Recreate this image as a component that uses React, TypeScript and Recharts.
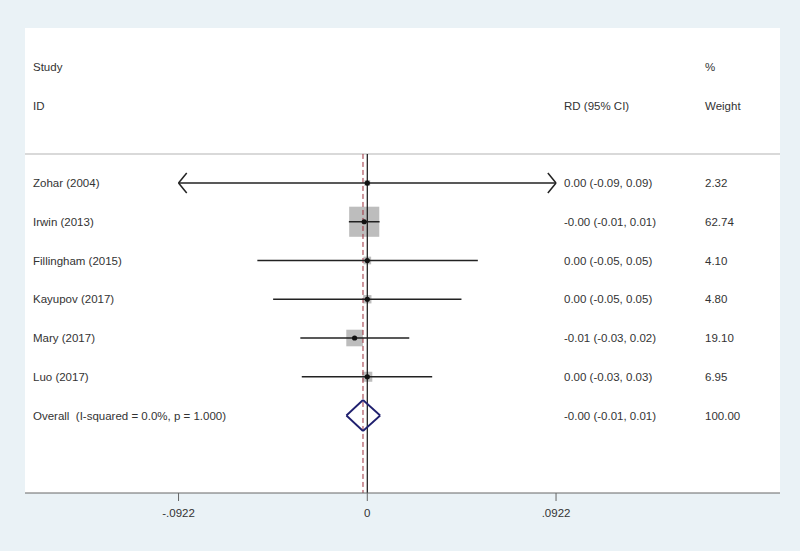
import React from "react";
import { ComposedChart, XAxis, YAxis, Scatter, ReferenceLine, CartesianGrid, ErrorBar } from "recharts";

// study rows, top to bottom
const studies = ["Zohar (2004)", "Irwin (2013)", "Fillingham (2015)", "Kayupov (2017)", "Mary (2017)", "Luo (2017)"];
const estimates = [0.0, -0.0015, 0.0, 0.0, -0.0062, 0.0];
const lowers = [-0.094, -0.009, -0.0537, -0.046, -0.0327, -0.032];
const uppers = [0.094, 0.006, 0.054, 0.046, 0.0205, 0.0317];
const rdLabels = [
    "0.00 (-0.09, 0.09)",
    "-0.00 (-0.01, 0.01)",
    "0.00 (-0.05, 0.05)",
    "0.00 (-0.05, 0.05)",
    "-0.01 (-0.03, 0.02)",
    "0.00 (-0.03, 0.03)",
];
const weights = [2.32, 62.74, 4.1, 4.8, 19.1, 6.95];

const overallLabel = "Overall  (I-squared = 0.0%, p = 1.000)";
const overallEstimate = -0.0021;
const overallLower = -0.0102;
const overallUpper = 0.0063;
const overallRd = "-0.00 (-0.01, 0.01)";
const overallWeight = "100.00";

const xTicks = [-0.0922, 0, 0.0922];
const xTickLabels = ["-.0922", "0", ".0922"];
const xDomain = [-0.1672, 0.2016];
const clipMin = -0.0922;
const clipMax = 0.0922;

const TEXT = "#333";
const FONT = "'Liberation Sans', Arial, sans-serif";

const studyData = studies.map((name, i) => {
    const lo = Math.max(lowers[i], clipMin);
    const hi = Math.min(uppers[i], clipMax);
    return { x: estimates[i], y: i, w: weights[i], err: [estimates[i] - lo, hi - estimates[i]] };
});

// left & right text columns, keyed by row position
const rowText: Record<string, [string, string, string]> = {
    "-3": ["Study", "", "%"],
    "-2": ["ID", "RD (95% CI)", "Weight"],
};
studies.forEach((s, i) => {
    rowText[String(i)] = [s, rdLabels[i], weights[i].toFixed(2)];
});
rowText[String(studies.length)] = [overallLabel, overallRd, overallWeight];

const renderRowTick = (props: any) => {
    const { y, payload } = props;
    const cols = rowText[String(payload.value)];
    if (!cols) return <g />;
    const base = { fontSize: 11.5, fill: TEXT, fontFamily: FONT, dy: "0.35em", style: { whiteSpace: "pre" as const } };
    return (
        <g>
            <text x={33} y={y} {...base}>{cols[0]}</text>
            <text x={564} y={y} {...base}>{cols[1]}</text>
            <text x={705} y={y} {...base}>{cols[2]}</text>
        </g>
    );
};

const WeightBox = (props: any) => {
    const { cx, cy, payload } = props;
    const side = 3.8 * Math.sqrt(payload.w);
    return <rect x={cx - side / 2} y={cy - side / 2} width={side} height={side} fill="#bdbdbd" />;
};

const Dot = (props: any) => {
    const { cx, cy } = props;
    return <circle cx={cx} cy={cy} r={2.6} fill="#111" />;
};

export default function App() {
    const overallRow = studies.length;
    const armX = 0.004;
    const armY = 0.26;
    const dh = 0.4;

    return (
        <div style={{ position: "absolute", left: 0, top: 0, width: 800, height: 551, background: "#eaf2f6" }}>
            <ComposedChart width={800} height={551} margin={{ top: 28, right: 20, left: 24, bottom: 28 }}>
                <CartesianGrid horizontal={false} vertical={false} fill="#fff" />
                <XAxis
                    type="number"
                    dataKey="x"
                    domain={xDomain}
                    allowDataOverflow
                    ticks={xTicks}
                    tickFormatter={(v: number) => xTickLabels[xTicks.indexOf(v)] ?? ""}
                    height={30}
                    tickSize={8}
                    tickMargin={8}
                    stroke="#666"
                    tick={{ fontSize: 11.5, fill: TEXT, fontFamily: FONT }}
                />
                <YAxis
                    type="number"
                    dataKey="y"
                    domain={[-4, 8]}
                    reversed
                    allowDataOverflow
                    ticks={[-3, -2, 0, 1, 2, 3, 4, 5, 6]}
                    interval={0}
                    width={1}
                    axisLine={false}
                    tickLine={false}
                    tick={renderRowTick}
                />
                <ReferenceLine y={-0.75} stroke="#cdcdcd" strokeWidth={1.5} />
                <Scatter data={studyData} shape={<WeightBox />} isAnimationActive={false} zIndex={50} />
                <ReferenceLine segment={[{ x: 0, y: -0.75 }, { x: 0, y: 8 }]} stroke="#111" strokeWidth={1.2} />
                <ReferenceLine
                    segment={[{ x: overallEstimate, y: -0.75 }, { x: overallEstimate, y: 8 }]}
                    stroke="#9c2f3c"
                    strokeWidth={1}
                    strokeDasharray="5 3"
                />
                {studies.map((s, i) =>
                    lowers[i] < clipMin
                        ? [-1, 1].map((d) => (
                              <ReferenceLine
                                  key={"la" + i + d}
                                  segment={[{ x: clipMin, y: i }, { x: clipMin + armX, y: i + d * armY }]}
                                  stroke="#222"
                                  strokeWidth={1.5}
                              />
                          ))
                        : null
                )}
                {studies.map((s, i) =>
                    uppers[i] > clipMax
                        ? [-1, 1].map((d) => (
                              <ReferenceLine
                                  key={"ra" + i + d}
                                  segment={[{ x: clipMax, y: i }, { x: clipMax - armX, y: i + d * armY }]}
                                  stroke="#222"
                                  strokeWidth={1.5}
                              />
                          ))
                        : null
                )}
                {[
                    [overallLower, overallRow, overallEstimate, overallRow - dh],
                    [overallEstimate, overallRow - dh, overallUpper, overallRow],
                    [overallUpper, overallRow, overallEstimate, overallRow + dh],
                    [overallEstimate, overallRow + dh, overallLower, overallRow],
                ].map((p, k) => (
                    <ReferenceLine
                        key={"dm" + k}
                        segment={[{ x: p[0], y: p[1] }, { x: p[2], y: p[3] }]}
                        stroke="#1f1f6e"
                        strokeWidth={1.8}
                    />
                ))}
                <Scatter data={studyData} shape={<Dot />} isAnimationActive={false}>
                    <ErrorBar dataKey="err" direction="x" width={0} stroke="#222" strokeWidth={1.5} />
                </Scatter>
            </ComposedChart>
        </div>
    );
}
